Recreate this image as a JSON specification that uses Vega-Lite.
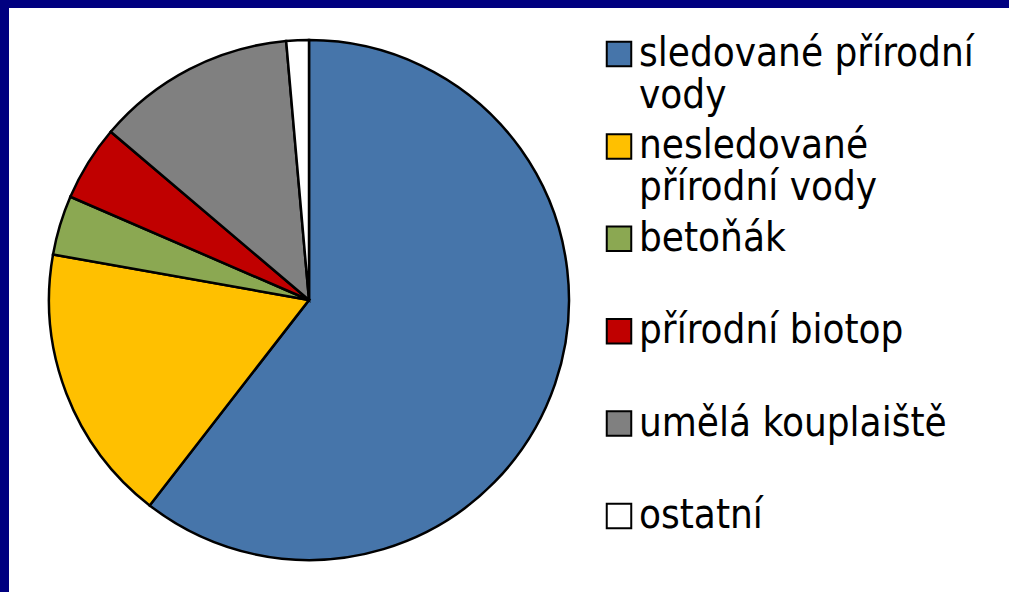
{
  "$schema": "https://vega.github.io/schema/vega-lite/v6.json",
  "width": 1000,
  "height": 584,
  "autosize": {"type": "none"},
  "padding": {"left": 9, "top": 8, "right": 0, "bottom": 0},
  "background": "#000080",
  "view": {"fill": "white", "stroke": null},
  "config": {
    "view": {"fill": "white", "stroke": null},
    "style": {"view": {"fill": "white"}, "cell": {"fill": "white"}}
  },
  "data": {
    "values": [
      {"typ": "sledované přírodní vody", "podil": 60.5, "poradi": 1},
      {"typ": "nesledované přírodní vody", "podil": 17.3, "poradi": 2},
      {"typ": "betoňák", "podil": 3.7, "poradi": 3},
      {"typ": "přírodní biotop", "podil": 4.7, "poradi": 4},
      {"typ": "umělá kouplaiště", "podil": 12.4, "poradi": 5},
      {"typ": "ostatní", "podil": 1.4, "poradi": 6}
    ]
  },
  "mark": {"type": "arc", "radius": 260, "x": 300, "y": 292, "stroke": "black", "strokeWidth": 2.5},
  "encoding": {
    "theta": {"field": "podil", "type": "quantitative", "stack": true},
    "order": {"field": "poradi", "type": "quantitative"},
    "color": {
      "field": "typ",
      "type": "nominal",
      "scale": {
        "domain": ["sledované přírodní vody", "nesledované přírodní vody", "betoňák", "přírodní biotop", "umělá kouplaiště", "ostatní"],
        "range": ["#4675AA", "#FFC000", "#8BA852", "#C00000", "#808080", "#FFFFFF"]
      },
      "legend": {
        "orient": "none",
        "legendX": 590,
        "legendY": 26,
        "title": null,
        "padding": 0,
        "symbolType": "square",
        "symbolSize": 600,
        "symbolStrokeColor": "black",
        "symbolStrokeWidth": 2,
        "labelFont": "DejaVu Sans Condensed",
        "labelFontSize": 40,
        "labelLineHeight": 46,
        "labelColor": "black",
        "labelLimit": 0,
        "labelOffset": 0,
        "rowPadding": 10.4,
        "labelExpr": "datum.label == 'sledované přírodní vody' ? ['sledované přírodní', 'vody'] : datum.label == 'nesledované přírodní vody' ? ['nesledované', 'přírodní vody'] : [datum.label, '']"
      }
    }
  }
}
